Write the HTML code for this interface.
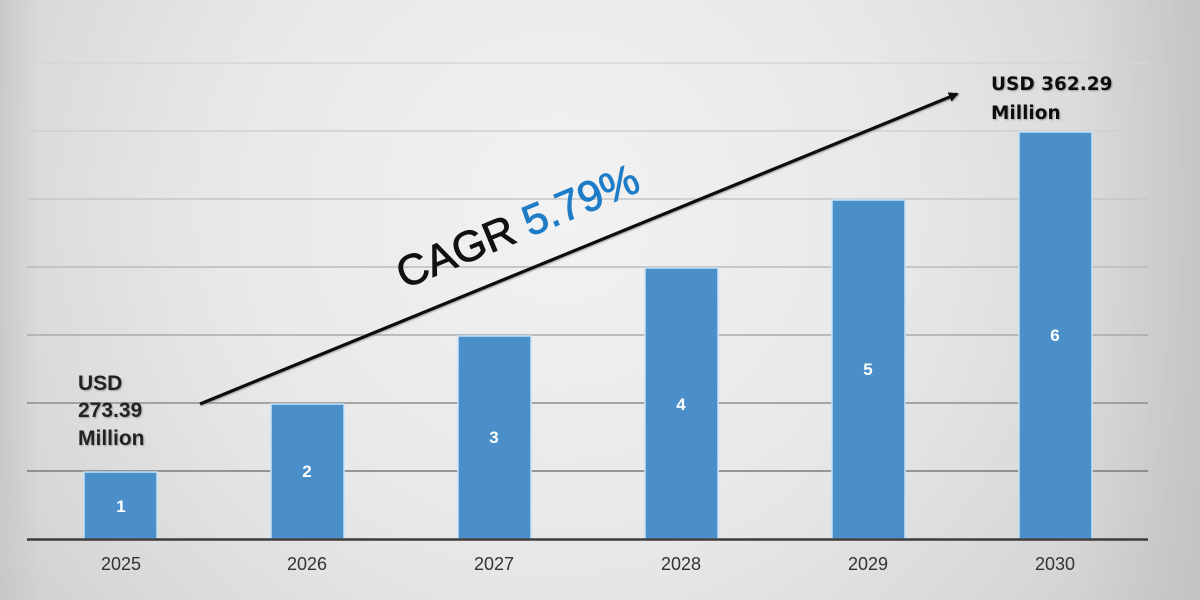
<!DOCTYPE html>
<html>
<head>
<meta charset="utf-8">
<style>
html,body{margin:0;padding:0;width:1200px;height:600px;overflow:hidden;}
svg{display:block;}
</style>
</head>
<body>
<svg width="1200" height="600" viewBox="0 0 1200 600" xmlns="http://www.w3.org/2000/svg">
  <defs>
    <radialGradient id="bg" cx="560" cy="210" r="760" gradientUnits="userSpaceOnUse">
      <stop offset="0" stop-color="#f2f2f2"/>
      <stop offset="0.45" stop-color="#e8e8e8"/>
      <stop offset="0.8" stop-color="#d6d6d6"/>
      <stop offset="1" stop-color="#c8c8c8"/>
    </radialGradient>
    <linearGradient id="rightShade" x1="0" y1="0" x2="1" y2="0">
      <stop offset="0" stop-color="#c4c4c4" stop-opacity="0"/>
      <stop offset="1" stop-color="#c0c0c0" stop-opacity="0.7"/>
    </linearGradient>
    <linearGradient id="leftShade" x1="0" y1="0" x2="1" y2="0">
      <stop offset="0" stop-color="#c6c6c6" stop-opacity="0.8"/>
      <stop offset="1" stop-color="#c6c6c6" stop-opacity="0"/>
    </linearGradient>
    <marker id="ah" markerWidth="10" markerHeight="10" refX="8" refY="5" orient="auto" markerUnits="userSpaceOnUse">
      <path d="M0,0 L10,5 L0,10 z" fill="#111"/>
    </marker>
    <filter id="sh" x="-10%" y="-10%" width="130%" height="130%">
      <feDropShadow dx="1" dy="1" stdDeviation="0.8" flood-color="#777" flood-opacity="0.6"/>
    </filter>
  </defs>

  <rect width="1200" height="600" fill="url(#bg)"/>
  <rect x="1080" y="0" width="120" height="600" fill="url(#rightShade)"/>
  <rect x="0" y="0" width="40" height="600" fill="url(#leftShade)"/>

  <!-- gridlines -->
  <g stroke-width="1.5">
    <line x1="27" y1="63" x2="1148" y2="63" stroke="#d6d6d6"/>
    <line x1="27" y1="131" x2="1148" y2="131" stroke="#cfcfcf"/>
    <line x1="27" y1="199" x2="1148" y2="199" stroke="#c6c6c6"/>
    <line x1="27" y1="267" x2="1148" y2="267" stroke="#bbbbbb"/>
    <line x1="27" y1="335" x2="1148" y2="335" stroke="#aaaaaa"/>
    <line x1="27" y1="403" x2="1148" y2="403" stroke="#8e8e8e"/>
    <line x1="27" y1="471" x2="1148" y2="471" stroke="#7a7a7a"/>
  </g>

  <!-- bars -->
  <g fill="#4a8fca" stroke="#c5e2f8" stroke-width="1.5">
    <rect x="84" y="472" width="73" height="67"/>
    <rect x="271" y="404" width="73" height="135"/>
    <rect x="458" y="336" width="73" height="203"/>
    <rect x="645" y="268" width="73" height="271"/>
    <rect x="832" y="200" width="73" height="339"/>
    <rect x="1019" y="132" width="73" height="407"/>
  </g>

  <!-- baseline -->
  <line x1="27" y1="539.5" x2="1148" y2="539.5" stroke="#3c3c3c" stroke-width="2.5"/>

  <!-- bar labels -->
  <g font-family="Liberation Sans, sans-serif" font-weight="bold" font-size="17" fill="#ffffff" text-anchor="middle">
    <text x="121" y="512">1</text>
    <text x="307" y="477">2</text>
    <text x="494" y="443">3</text>
    <text x="681" y="410">4</text>
    <text x="868" y="375">5</text>
    <text x="1055" y="341">6</text>
  </g>

  <!-- year labels -->
  <g font-family="Liberation Sans, sans-serif" font-size="18" fill="#333" text-anchor="middle">
    <text x="121" y="570">2025</text>
    <text x="307" y="570">2026</text>
    <text x="494" y="570">2027</text>
    <text x="681" y="570">2028</text>
    <text x="868" y="570">2029</text>
    <text x="1055" y="570">2030</text>
  </g>

  <!-- arrow -->
  <line x1="200" y1="404" x2="957" y2="94" stroke="#111" stroke-width="3.2" marker-end="url(#ah)" filter="url(#sh)"/>

  <!-- CAGR text -->
  <text x="404" y="289" transform="rotate(-22.5 404 289)" font-family="Liberation Sans, sans-serif" font-size="43" fill="#111" stroke="#111" stroke-width="0.9">CAGR <tspan fill="#1f7dc8" stroke="#1f7dc8">5.79%</tspan></text>

  <!-- left label -->
  <g font-family="Liberation Sans, sans-serif" font-weight="bold" font-size="21" fill="#222" filter="url(#sh)">
    <text x="78" y="390">USD</text>
    <text x="78" y="417">273.39</text>
    <text x="78" y="445">Million</text>
  </g>

  <!-- right label -->
  <g font-family="DejaVu Sans, sans-serif" font-weight="bold" font-size="18.5" fill="#111" filter="url(#sh)">
    <text x="991" y="90">USD 362.29</text>
    <text x="991" y="119">Million</text>
  </g>
</svg>
</body>
</html>
